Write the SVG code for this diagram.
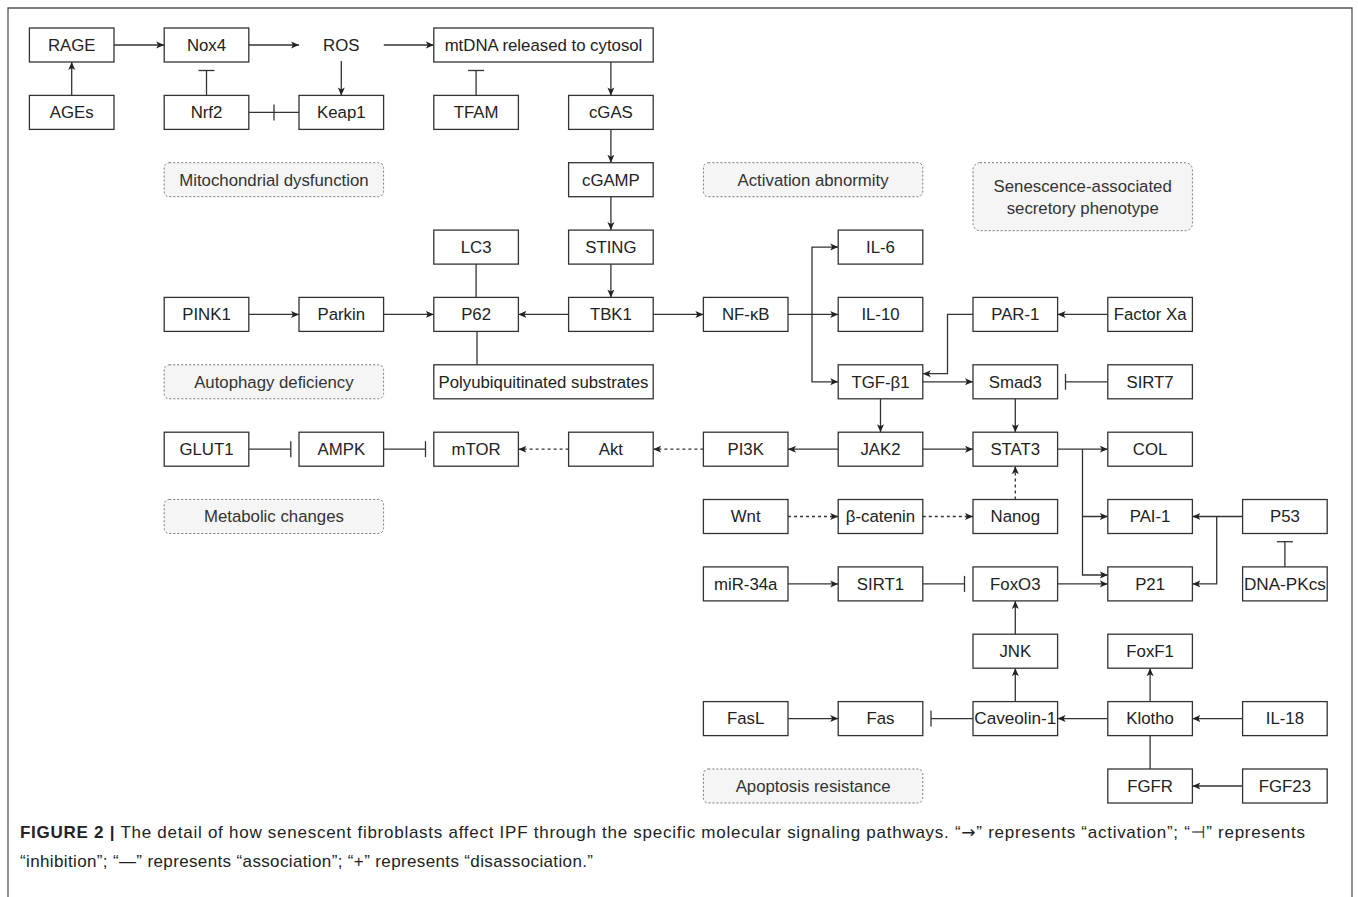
<svg xmlns="http://www.w3.org/2000/svg" width="1358" height="897" viewBox="0 0 1358 897">
<style>
.n rect{fill:#fff;stroke:#333;stroke-width:1.3}
.n text,.g text{font-family:"Liberation Sans",Arial,sans-serif;font-size:16.8px;fill:#222;text-anchor:middle}
.g rect{fill:#f5f5f5;stroke:#777;stroke-width:1;stroke-dasharray:2 2}
.g text{fill:#333}
#edges path{fill:none;stroke:#333;stroke-width:1.3}
#edges .a{marker-end:url(#arr)}
#edges .i{marker-end:url(#inh)}
#edges .d{stroke-dasharray:3 3}
.cap{font-family:"Liberation Sans",Arial,sans-serif;font-size:17px;fill:#222}
.sym{font-family:"DejaVu Sans",sans-serif}
</style>
<defs>
<marker id="arr" markerUnits="userSpaceOnUse" markerWidth="10" markerHeight="10" refX="8" refY="4" orient="auto">
<path d="M0,0.5 L8,4 L0,7.5 L2,4 Z" fill="#222"/>
</marker>
<marker id="inh" markerUnits="userSpaceOnUse" markerWidth="4" markerHeight="20" refX="2" refY="10" orient="auto">
<path d="M2,2 L2,18" stroke="#333" stroke-width="1.3"/>
</marker>
</defs>
<rect width="1358" height="897" fill="#fff"/>
<path d="M8,897 V8 H1352 V897" fill="none" stroke="#555" stroke-width="1.3"/>

<g id="edges">
<path class="a" d="M71.7,95.4 V62"/>
<path class="a" d="M114,45 H164.2"/>
<path class="a" d="M248.8,45 H299"/>
<path class="a" d="M383.8,45 H433.8"/>
<path class="a" d="M341.3,61 V95.4"/>
<path class="i" d="M206.5,95.4 V70.5"/>
<path d="M299,112.4 H274 H248.8" style="marker-mid:url(#inh)"/>
<path class="i" d="M476.1,95.4 V70.5"/>
<path class="a" d="M610.9,62 V95.4"/>
<path class="a" d="M610.9,129.4 V162.7"/>
<path class="a" d="M610.9,196.7 V230.1"/>
<path class="a" d="M610.9,264.1 V297.4"/>
<path d="M476.1,264.1 V297.4"/>
<path d="M477,331.4 V364.8"/>
<path class="a" d="M248.8,314.4 H299"/>
<path class="a" d="M383.6,314.4 H433.8"/>
<path class="a" d="M568.6,314.4 H518.4"/>
<path class="a" d="M653.2,314.4 H703.4"/>
<path class="a" d="M788,314.4 H838.2"/>
<path class="a" d="M812,314.4 V247.1 H838.2"/>
<path class="a" d="M812,314.4 V381.8 H838.2"/>
<path class="a" d="M1107.8,314.4 H1057.6"/>
<path class="a" d="M973,314.4 H947.5 V373.7 H922.8"/>
<path class="a" d="M922.8,381.8 H973"/>
<path class="i" d="M1107.8,381.8 H1065.5"/>
<path class="a" d="M880.5,398.8 V432.2"/>
<path class="a" d="M1015.3,398.8 V432.2"/>
<path class="a" d="M838.2,449.2 H788"/>
<path class="a" d="M922.8,449.2 H973"/>
<path class="a d" d="M703.4,449.2 H653.2"/>
<path class="a d" d="M568.6,449.2 H518.4"/>
<path class="i" d="M383.6,449.2 H425.5"/>
<path class="i" d="M248.8,449.2 H290.8"/>
<path class="a" d="M1057.6,449.2 H1107.8"/>
<path class="a" d="M1082.5,449.2 V516.5 H1107.8"/>
<path class="a" d="M1082.5,516.5 V575 H1107.8"/>
<path class="a" d="M1242.6,516.5 H1192.4"/>
<path class="a" d="M1216.7,516.5 V583.9 H1192.4"/>
<path class="i" d="M1284.9,566.9 V541.7"/>
<path class="a d" d="M788,516.5 H838.2"/>
<path class="a d" d="M922.8,516.5 H973"/>
<path class="a d" d="M1015.3,499.5 V466.2"/>
<path class="a" d="M788,583.9 H838.2"/>
<path class="i" d="M922.8,583.9 H964.5"/>
<path class="a" d="M1057.6,583.9 H1107.8"/>
<path class="a" d="M1015.3,634.2 V600.9"/>
<path class="a" d="M1015.3,701.6 V668.2"/>
<path class="a" d="M1107.8,718.6 H1057.6"/>
<path class="a" d="M1150.1,701.6 V668.2"/>
<path class="a" d="M1242.6,718.6 H1192.4"/>
<path d="M1150.1,735.6 V769"/>
<path class="a" d="M1242.6,786 H1192.4"/>
<path class="a" d="M788,718.6 H838.2"/>
<path class="i" d="M973,718.6 H931"/>
</g>

<g id="RAGE" class="n"><rect x="29.4" y="28" width="84.6" height="34"/><text x="71.7" y="50.8">RAGE</text></g>
<g id="Nox4" class="n"><rect x="164.2" y="28" width="84.6" height="34"/><text x="206.5" y="50.8">Nox4</text></g>
<g id="ROS" class="n"><text x="341.3" y="50.8">ROS</text></g>
<g id="mtDNA" class="n"><rect x="433.8" y="28" width="219.4" height="34"/><text x="543.5" y="50.8">mtDNA released to cytosol</text></g>
<g id="AGEs" class="n"><rect x="29.4" y="95.4" width="84.6" height="34"/><text x="71.7" y="118.2">AGEs</text></g>
<g id="Nrf2" class="n"><rect x="164.2" y="95.4" width="84.6" height="34"/><text x="206.5" y="118.2">Nrf2</text></g>
<g id="Keap1" class="n"><rect x="299" y="95.4" width="84.6" height="34"/><text x="341.3" y="118.2">Keap1</text></g>
<g id="TFAM" class="n"><rect x="433.8" y="95.4" width="84.6" height="34"/><text x="476.1" y="118.2">TFAM</text></g>
<g id="cGAS" class="n"><rect x="568.6" y="95.4" width="84.6" height="34"/><text x="610.9" y="118.2">cGAS</text></g>
<g id="cGAMP" class="n"><rect x="568.6" y="162.7" width="84.6" height="34"/><text x="610.9" y="185.5">cGAMP</text></g>
<g id="LC3" class="n"><rect x="433.8" y="230.1" width="84.6" height="34"/><text x="476.1" y="252.9">LC3</text></g>
<g id="STING" class="n"><rect x="568.6" y="230.1" width="84.6" height="34"/><text x="610.9" y="252.9">STING</text></g>
<g id="IL-6" class="n"><rect x="838.2" y="230.1" width="84.6" height="34"/><text x="880.5" y="252.9">IL-6</text></g>
<g id="PINK1" class="n"><rect x="164.2" y="297.4" width="84.6" height="34"/><text x="206.5" y="320.2">PINK1</text></g>
<g id="Parkin" class="n"><rect x="299" y="297.4" width="84.6" height="34"/><text x="341.3" y="320.2">Parkin</text></g>
<g id="P62" class="n"><rect x="433.8" y="297.4" width="84.6" height="34"/><text x="476.1" y="320.2">P62</text></g>
<g id="TBK1" class="n"><rect x="568.6" y="297.4" width="84.6" height="34"/><text x="610.9" y="320.2">TBK1</text></g>
<g id="NF-kB" class="n"><rect x="703.4" y="297.4" width="84.6" height="34"/><text x="745.7" y="320.2">NF-κB</text></g>
<g id="IL-10" class="n"><rect x="838.2" y="297.4" width="84.6" height="34"/><text x="880.5" y="320.2">IL-10</text></g>
<g id="PAR-1" class="n"><rect x="973" y="297.4" width="84.6" height="34"/><text x="1015.3" y="320.2">PAR-1</text></g>
<g id="FactorXa" class="n"><rect x="1107.8" y="297.4" width="84.6" height="34"/><text x="1150.1" y="320.2">Factor Xa</text></g>
<g id="Poly" class="n"><rect x="433.8" y="364.8" width="219.4" height="34"/><text x="543.5" y="387.6">Polyubiquitinated substrates</text></g>
<g id="TGF-b1" class="n"><rect x="838.2" y="364.8" width="84.6" height="34"/><text x="880.5" y="387.6">TGF-β1</text></g>
<g id="Smad3" class="n"><rect x="973" y="364.8" width="84.6" height="34"/><text x="1015.3" y="387.6">Smad3</text></g>
<g id="SIRT7" class="n"><rect x="1107.8" y="364.8" width="84.6" height="34"/><text x="1150.1" y="387.6">SIRT7</text></g>
<g id="GLUT1" class="n"><rect x="164.2" y="432.2" width="84.6" height="34"/><text x="206.5" y="455">GLUT1</text></g>
<g id="AMPK" class="n"><rect x="299" y="432.2" width="84.6" height="34"/><text x="341.3" y="455">AMPK</text></g>
<g id="mTOR" class="n"><rect x="433.8" y="432.2" width="84.6" height="34"/><text x="476.1" y="455">mTOR</text></g>
<g id="Akt" class="n"><rect x="568.6" y="432.2" width="84.6" height="34"/><text x="610.9" y="455">Akt</text></g>
<g id="PI3K" class="n"><rect x="703.4" y="432.2" width="84.6" height="34"/><text x="745.7" y="455">PI3K</text></g>
<g id="JAK2" class="n"><rect x="838.2" y="432.2" width="84.6" height="34"/><text x="880.5" y="455">JAK2</text></g>
<g id="STAT3" class="n"><rect x="973" y="432.2" width="84.6" height="34"/><text x="1015.3" y="455">STAT3</text></g>
<g id="COL" class="n"><rect x="1107.8" y="432.2" width="84.6" height="34"/><text x="1150.1" y="455">COL</text></g>
<g id="Wnt" class="n"><rect x="703.4" y="499.5" width="84.6" height="34"/><text x="745.7" y="522.3">Wnt</text></g>
<g id="b-catenin" class="n"><rect x="838.2" y="499.5" width="84.6" height="34"/><text x="880.5" y="522.3">β-catenin</text></g>
<g id="Nanog" class="n"><rect x="973" y="499.5" width="84.6" height="34"/><text x="1015.3" y="522.3">Nanog</text></g>
<g id="PAI-1" class="n"><rect x="1107.8" y="499.5" width="84.6" height="34"/><text x="1150.1" y="522.3">PAI-1</text></g>
<g id="P53" class="n"><rect x="1242.6" y="499.5" width="84.6" height="34"/><text x="1284.9" y="522.3">P53</text></g>
<g id="miR-34a" class="n"><rect x="703.4" y="566.9" width="84.6" height="34"/><text x="745.7" y="589.7">miR-34a</text></g>
<g id="SIRT1" class="n"><rect x="838.2" y="566.9" width="84.6" height="34"/><text x="880.5" y="589.7">SIRT1</text></g>
<g id="FoxO3" class="n"><rect x="973" y="566.9" width="84.6" height="34"/><text x="1015.3" y="589.7">FoxO3</text></g>
<g id="P21" class="n"><rect x="1107.8" y="566.9" width="84.6" height="34"/><text x="1150.1" y="589.7">P21</text></g>
<g id="DNA-PKcs" class="n"><rect x="1242.6" y="566.9" width="84.6" height="34"/><text x="1284.9" y="589.7" textLength="82" lengthAdjust="spacingAndGlyphs">DNA-PKcs</text></g>
<g id="JNK" class="n"><rect x="973" y="634.2" width="84.6" height="34"/><text x="1015.3" y="657">JNK</text></g>
<g id="FoxF1" class="n"><rect x="1107.8" y="634.2" width="84.6" height="34"/><text x="1150.1" y="657">FoxF1</text></g>
<g id="FasL" class="n"><rect x="703.4" y="701.6" width="84.6" height="34"/><text x="745.7" y="724.4">FasL</text></g>
<g id="Fas" class="n"><rect x="838.2" y="701.6" width="84.6" height="34"/><text x="880.5" y="724.4">Fas</text></g>
<g id="Caveolin-1" class="n"><rect x="973" y="701.6" width="84.6" height="34"/><text x="1015.3" y="724.4" textLength="82" lengthAdjust="spacingAndGlyphs">Caveolin-1</text></g>
<g id="Klotho" class="n"><rect x="1107.8" y="701.6" width="84.6" height="34"/><text x="1150.1" y="724.4">Klotho</text></g>
<g id="IL-18" class="n"><rect x="1242.6" y="701.6" width="84.6" height="34"/><text x="1284.9" y="724.4">IL-18</text></g>
<g id="FGFR" class="n"><rect x="1107.8" y="769" width="84.6" height="34"/><text x="1150.1" y="791.8">FGFR</text></g>
<g id="FGF23" class="n"><rect x="1242.6" y="769" width="84.6" height="34"/><text x="1284.9" y="791.8">FGF23</text></g>

<g id="lbl-mito" class="g"><rect x="164.2" y="162.7" width="219.4" height="34" rx="5"/><text x="273.9" y="185.5">Mitochondrial dysfunction</text></g>
<g id="lbl-act" class="g"><rect x="703.4" y="162.7" width="219.4" height="34" rx="5"/><text x="813.1" y="185.5">Activation abnormity</text></g>
<g id="lbl-sasp" class="g"><rect x="973" y="162.7" width="219.4" height="68" rx="7"/><text x="1082.7" y="191.8">Senescence-associated</text><text x="1082.7" y="213.8">secretory phenotype</text></g>
<g id="lbl-auto" class="g"><rect x="164.2" y="364.8" width="219.4" height="34" rx="5"/><text x="273.9" y="387.6">Autophagy deficiency</text></g>
<g id="lbl-meta" class="g"><rect x="164.2" y="499.5" width="219.4" height="34" rx="5"/><text x="273.9" y="522.3">Metabolic changes</text></g>
<g id="lbl-apop" class="g"><rect x="703.4" y="769" width="219.4" height="34" rx="5"/><text x="813.1" y="791.8">Apoptosis resistance</text></g>

<text class="cap" x="20" y="838" textLength="1285" lengthAdjust="spacing"><tspan font-weight="bold">FIGURE 2 |</tspan> The detail of how senescent fibroblasts affect IPF through the specific molecular signaling pathways. “<tspan class="sym">→</tspan>” represents “activation”; “<tspan class="sym">⊣</tspan>” represents</text>
<text class="cap" x="20" y="867" textLength="573" lengthAdjust="spacing">“inhibition”; “—” represents “association”; “+” represents “disassociation.”</text>
</svg>
